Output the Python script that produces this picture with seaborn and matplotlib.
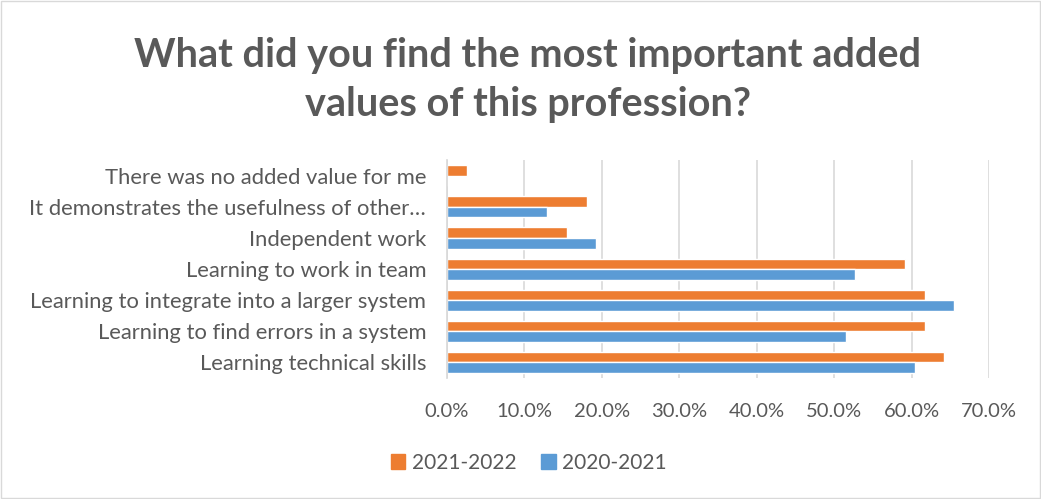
import matplotlib
matplotlib.use("Agg")
import matplotlib.pyplot as plt
import seaborn as sns
import pandas as pd
from matplotlib.patches import Rectangle
from matplotlib.ticker import FuncFormatter, MultipleLocator

categories = [
    "There was no added value for me",
    "It demonstrates the usefulness of other\u2026",
    "Independent work",
    "Learning to work in team",
    "Learning to integrate into a larger system",
    "Learning to find errors in a system",
    "Learning technical skills",
]
series_names = ["2021-2022", "2020-2021"]
values_2021_2022 = [2.6, 18.1, 15.5, 59.1, 61.7, 61.7, 64.2]
values_2020_2021 = [0.0, 12.9, 19.3, 52.7, 65.5, 51.5, 60.4]

rows = []
for c, a, b in zip(categories, values_2021_2022, values_2020_2021):
    rows.append({"cat": c, "series": series_names[0], "val": a})
    rows.append({"cat": c, "series": series_names[1], "val": b})
df = pd.DataFrame(rows)

sns.set_theme(style="white")
plt.rcParams["font.family"] = ["Lato", "DejaVu Sans"]

fig = plt.figure(figsize=(10.41, 4.99), dpi=100)
ax = fig.add_axes([0.4294, 0.2425, 0.5206, 0.4365])
colors = {"2021-2022": "#ED7D31", "2020-2021": "#5B9BD5"}
sns.barplot(data=df, y="cat", x="val", hue="series", hue_order=series_names,
            order=categories, palette=colors, orient="h", width=0.68,
            ax=ax, legend=False, saturation=1)

ax.set_xlim(0, 70)
ax.xaxis.set_major_locator(MultipleLocator(10))
ax.xaxis.set_major_formatter(FuncFormatter(lambda v, p: f"{v:.1f}%"))
ax.grid(axis="x", color="#D9D9D9", linewidth=1.2)
ax.set_axisbelow(True)
for s in ["top", "right", "bottom"]:
    ax.spines[s].set_visible(False)
ax.spines["left"].set_color("#D9D9D9")
ax.set_xlabel("")
ax.set_ylabel("")
ax.tick_params(axis="x", length=0, pad=18, labelsize=14.5, labelcolor="#595959")
ax.tick_params(axis="y", length=0, pad=15, labelsize=15.8, labelcolor="#595959")

fig.text(0.507, 0.84, "What did you find the most important added\nvalues of this profession?",
         ha="center", va="center", fontsize=28.5, fontweight="bold", color="#595959",
         linespacing=1.38)

# legend
handles = [Rectangle((0, 0), 1, 1, color=colors[s]) for s in series_names]
fig.legend(handles, series_names, loc="center", bbox_to_anchor=(0.508, 0.072), ncol=2,
           frameon=False, fontsize=15, labelcolor="#595959", handlelength=0.7,
           handleheight=0.7, handletextpad=0.3, columnspacing=1.2)

fig.patches.append(Rectangle((0.001, 0.002), 0.998, 0.996, transform=fig.transFigure,
                             fill=False, edgecolor="#D9D9D9", linewidth=1))
fig.savefig("out.png", dpi=100, facecolor="white")
